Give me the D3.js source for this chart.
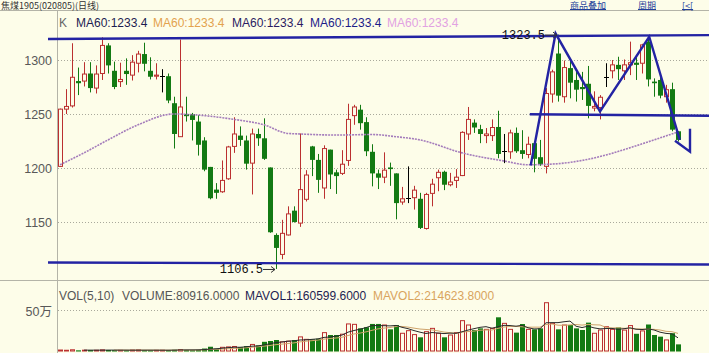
<!DOCTYPE html>
<html>
<head>
<meta charset="utf-8">
<script src="https://cdn.jsdelivr.net/npm/d3@7"></script>
<style>
html, body { margin: 0; padding: 0; background: #fdfde9; }
svg { display: block; }
</style>
</head>
<body>
<svg id="chart" width="709" height="353"></svg>
<script>
// daily bars, index 1..104
const opens = [1201.5, 1254.5, 1257.5, 1280.5, 1280.5, 1287.5, 1274, 1287.5, 1313.5, 1290,
  1280, 1290, 1286, 1297, 1305.5, 1290, 1285, 1285, 1285, 1260,
  1229, 1250, 1250, 1243, 1225.5, 1201, 1180, 1178, 1190, 1220,
  1230, 1225.5, 1204.5, 1231.5, 1227.5, 1200.5, 1138, 1120, 1138, 1160.5,
  1149, 1171, 1220, 1207.5, 1181.5, 1217, 1196, 1195, 1207, 1248.5,
  1254, 1242.5, 1215, 1195, 1191.5, 1200.5, 1195, 1168.5, 1172, 1172.5,
  1171.5, 1144, 1176.5, 1191, 1196.5, 1184.5, 1188.5, 1193, 1231.5, 1242,
  1236, 1230, 1230, 1238, 1216, 1215, 1232.5, 1216.5, 1212.5, 1223,
  1210, 1201.5, 1268.5, 1306, 1266, 1292.5, 1281.5, 1275, 1278, 1255.5,
  1256, 1284.5, 1290, 1295.5, 1290, 1295.5, 1297.5, 1297, 1317, 1280,
  1281.5, 1266, 1273, 1234]
const highs = [1255, 1273, 1315.5, 1293, 1298, 1298, 1295, 1321, 1315.5, 1298.5,
  1297.5, 1301.5, 1304.5, 1308.5, 1316, 1302.5, 1297, 1291.5, 1287.5, 1266,
  1319, 1266, 1251, 1249, 1228.5, 1201, 1186, 1207, 1220.5, 1247,
  1238.5, 1230, 1236.5, 1236.5, 1246, 1200.5, 1139.5, 1152, 1164.5, 1164.5,
  1232, 1198, 1220.5, 1213, 1221, 1217, 1198.5, 1216.5, 1259.5, 1258.5,
  1258.5, 1247, 1222, 1198.5, 1214.5, 1205, 1195, 1182.5, 1201.5, 1183.5,
  1177, 1177, 1190, 1198.5, 1197.5, 1195.5, 1199, 1234, 1256.5, 1245,
  1240, 1237, 1245, 1253, 1231.5, 1235.5, 1237.5, 1235, 1229, 1223.5,
  1226, 1274, 1291, 1323.5, 1299.5, 1301.5, 1291, 1289, 1294.5, 1271,
  1267.5, 1297, 1300, 1303, 1300.5, 1317, 1304.5, 1315, 1321, 1283,
  1284.5, 1277, 1279, 1234]
const lows = [1201, 1250, 1256, 1267.5, 1275.5, 1270, 1269, 1281.5, 1287.5, 1273,
  1275, 1277, 1281, 1288.5, 1289.5, 1282, 1282, 1270, 1260, 1218,
  1229, 1243, 1225.5, 1211.5, 1197, 1171, 1171.5, 1177, 1189, 1214,
  1220.5, 1198.5, 1175.5, 1220.5, 1207.5, 1140, 1106.5, 1115.5, 1137.5, 1149.5,
  1145.5, 1169, 1192.5, 1177, 1171.5, 1180.5, 1176, 1193.5, 1202, 1240,
  1235.5, 1211, 1183, 1180.5, 1186, 1183.5, 1152.5, 1166, 1167.5, 1161.5,
  1143.5, 1143, 1164.5, 1178.5, 1179.5, 1183, 1181.5, 1192.5, 1226, 1232.5,
  1223, 1223, 1225, 1209, 1204.5, 1208.5, 1214, 1208.5, 1209, 1196,
  1202, 1195, 1260.5, 1261.5, 1260.5, 1264.5, 1261.5, 1263, 1246, 1252.5,
  1245, 1275, 1283, 1281.5, 1281.5, 1286, 1281.5, 1287.5, 1275.5, 1266,
  1264.5, 1260.5, 1234, 1224.5]
const closes = [1254.5, 1257, 1284, 1278.5, 1287, 1274, 1287, 1313.5, 1295, 1275,
  1282, 1287, 1298, 1305.5, 1296.5, 1284.5, 1286, 1285, 1262.5, 1231.5,
  1256.5, 1248, 1244.5, 1221.5, 1198.5, 1172, 1177, 1188.5, 1219.5, 1231.5,
  1226, 1204, 1231.5, 1227.5, 1208.5, 1140.5, 1126, 1139.5, 1157.5, 1150,
  1180, 1193.5, 1207.5, 1189, 1218, 1194, 1192.5, 1203.5, 1245, 1256.5,
  1241.5, 1215.5, 1195, 1191, 1198, 1199, 1167.5, 1171.5, 1172, 1179.5,
  1144.5, 1175.5, 1185, 1196, 1184.5, 1187, 1191.5, 1233, 1245, 1237.5,
  1231.5, 1231.5, 1237.5, 1213, 1216, 1232.5, 1215.5, 1213, 1222, 1208.5,
  1203.5, 1269, 1289, 1267, 1293, 1279, 1272.5, 1273, 1257.5, 1257,
  1265.5, 1284.5, 1295.5, 1291.5, 1295.5, 1297.5, 1295.5, 1314, 1282, 1278.5,
  1267, 1272.5, 1235.5, 1226]
const volumes = [12000, 9000, 15000, 8000, 10000, 11000, 9000, 14000, 12000, 10000,
  8000, 9000, 11000, 13000, 10000, 9000, 8000, 9000, 12000, 15000,
  18000, 12000, 10000, 14000, 30000, 52000, 28000, 45000, 50000, 55000,
  48000, 60000, 80000, 68000, 112000, 122000, 134000, 112000, 120000, 134000,
  172000, 142000, 142000, 150000, 224000, 195000, 195000, 205000, 330000, 325000,
  276000, 290000, 330000, 330000, 317000, 264000, 317000, 216000, 248000, 200000,
  167000, 236000, 276000, 216000, 167000, 195000, 224000, 370000, 317000, 256000,
  276000, 264000, 276000, 411000, 337000, 264000, 224000, 329000, 264000, 264000,
  276000, 589000, 337000, 264000, 317000, 317000, 276000, 256000, 346000, 216000,
  256000, 296000, 264000, 288000, 255000, 310000, 210000, 245000, 323240, 195000,
  175000, 135000, 217082, 80916]

// MA60 at some bars
const ma60Idx = [1, 5, 9, 14, 20, 24, 30, 35, 39, 41, 47, 53, 57, 61, 68, 75, 79, 84, 88, 92, 95, 100, 104]
const ma60Val = [1203, 1214, 1226, 1240, 1250, 1249, 1245, 1240, 1232, 1231.5, 1230.5, 1231, 1229, 1226, 1214, 1206.5, 1203, 1204, 1207, 1212, 1217, 1226, 1233.4]

const priceTicks = [1150, 1200, 1250, 1300]
const volTicks = [500000]

// hand drawn lines on the chart, [bar index, price]
const topLine = [[-1, 1319.5], [109.5, 1323]]
const bottomLine = [[-1, 1112.5], [109.5, 1110.7]]
const neckLine = [[79.3, 1249.7], [109.5, 1248.3]]
const zigzag = [[79.45, 1202.4], [83.6, 1324.5], [91, 1252.4], [99.2, 1321.5], [104.3, 1226]]
const arrowHead = [[103.5, 1225.2], [106, 1215.1], [106, 1236.3]]

const maLabels = ['MA60:1233.4', 'MA60:1233.4', 'MA60:1233.4', 'MA60:1233.4', 'MA60:1233.4']
const maColors = ['#1d1d52', '#e3a24e', '#2b1c62', '#1c1c88', '#e2a2e2']

const W = 709, H = 353
const bg = '#fdfde9'
const red = '#bb3030'
const green = '#137a13'
const navy = '#2323a3'

const svg = d3.select('#chart')
svg.append('rect').attr('width', W).attr('height', H).attr('fill', bg)

const x = d3.scaleLinear().domain([1, 104]).range([60, 678])
const y = d3.scaleLinear().domain([1150, 1300]).range([222, 60])
const yv = d3.scaleLinear().domain([0, 500000]).range([351, 310])

const candles = opens.map((o, i) => ({ i: i + 1, o: o, h: highs[i], l: lows[i], c: closes[i], v: volumes[i] }))
const colorOf = d => d.c > d.o ? red : (d.c < d.o ? green : '#000')

// frame
svg.append('line').attr('x1', 0).attr('x2', W).attr('y1', 10.5).attr('y2', 10.5).attr('stroke', '#b4b4a8')
svg.append('line').attr('x1', 0).attr('x2', W).attr('y1', 280.5).attr('y2', 280.5).attr('stroke', '#b4b4a8')
svg.append('line').attr('x1', 57.5).attr('x2', 57.5).attr('y1', 10).attr('y2', H).attr('stroke', '#b4b4a8')

// header (small so it fits above the top rule)
svg.append('text').attr('x', 1).attr('y', 8.5)
  .style('font', '9px "Noto Sans CJK SC"').attr('fill', '#333')
  .text('焦煤1905(020805)(日线)')
const links = [['商品叠加', 570], ['周期', 638], ['[<[', 682]]
links.forEach(l => {
  const t = svg.append('text').attr('x', l[1]).attr('y', 8.5)
    .style('font', '9px "Noto Sans CJK SC"').attr('fill', '#22409a')
    .text(l[0])
  const w = t.node().getComputedTextLength()
  svg.append('line').attr('x1', l[1]).attr('x2', l[1] + w).attr('y1', 9.5).attr('y2', 9.5).attr('stroke', '#22409a')
})

svg.append('text').attr('x', 59).attr('y', 26.5)
  .style('font', '12px "Liberation Sans", Arial').attr('fill', '#666').text('K')
const maX = [76, 153, 232, 310, 387]
maLabels.forEach((t, i) => {
  svg.append('text').attr('x', maX[i]).attr('y', 26.5)
    .style('font', '12px "Liberation Sans", Arial').attr('fill', maColors[i]).text(t)
})

// price axis + grid
const tickFont = '12.5px "Liberation Sans", Arial'
priceTicks.forEach(t => {
  svg.append('line').attr('x1', 58).attr('x2', W)
    .attr('y1', Math.round(y(t)) + 0.5).attr('y2', Math.round(y(t)) + 0.5)
    .attr('stroke', '#a9a99c').attr('stroke-dasharray', '1,2')
  svg.append('text').attr('x', 52).attr('y', y(t) + 4.5)
    .attr('text-anchor', 'end').style('font', tickFont).attr('fill', '#585858').text(t)
})

const clip = svg.append('clipPath').attr('id', 'pclip')
clip.append('rect').attr('x', 0).attr('y', 11).attr('width', W).attr('height', 269)
const plot = svg.append('g').attr('clip-path', 'url(#pclip)')

// candles
const bars = plot.selectAll('g.bar').data(candles).enter().append('g').attr('class', 'bar')
bars.append('line')
  .attr('x1', d => x(d.i) + 0.5).attr('x2', d => x(d.i) + 0.5)
  .attr('y1', d => y(d.h)).attr('y2', d => y(d.l))
  .attr('stroke', colorOf)
bars.filter(d => d.c > d.o).append('rect')
  .attr('x', d => x(d.i) - 1.5).attr('width', 4)
  .attr('y', d => y(d.c)).attr('height', d => Math.max(1, y(d.o) - y(d.c)))
  .attr('fill', bg).attr('stroke', red)
bars.filter(d => d.c < d.o).append('rect')
  .attr('x', d => x(d.i) - 2).attr('width', 5)
  .attr('y', d => y(d.o)).attr('height', d => Math.max(1, y(d.c) - y(d.o)))
  .attr('fill', green)
bars.filter(d => d.c === d.o).append('line')
  .attr('x1', d => x(d.i) - 2).attr('x2', d => x(d.i) + 3)
  .attr('y1', d => Math.round(y(d.o)) + 0.5).attr('y2', d => Math.round(y(d.o)) + 0.5)
  .attr('stroke', '#000')

// MA60
const maLine = d3.line().x(d => x(d[0])).y(d => y(d[1])).curve(d3.curveMonotoneX)
plot.append('path').datum(ma60Idx.map((v, i) => [v, ma60Val[i]]))
  .attr('d', maLine).attr('fill', 'none')
  .attr('stroke', '#a47cbb').attr('stroke-width', 1.6).attr('stroke-dasharray', '2,1')

// drawn lines
const pline = d3.line().x(d => x(d[0])).y(d => y(d[1]))
;[topLine, bottomLine, neckLine, zigzag, arrowHead].forEach(pts => {
  plot.append('path').datum(pts).attr('d', pline).attr('fill', 'none')
    .attr('stroke', navy).attr('stroke-width', 2.4).attr('stroke-linejoin', 'miter')
})

// max / min markers
const hiBar = candles[d3.maxIndex(candles, d => d.h)]
const loBar = candles[d3.minIndex(candles, d => d.l)]
const fmt = d3.format('.1f')
;[[hiBar, hiBar.h], [loBar, loBar.l]].forEach(m => {
  const px = x(m[0].i), py = y(m[1])
  plot.append('text').attr('x', px - 13).attr('y', py + 4.5).attr('text-anchor', 'end')
    .style('font', '12px "Liberation Mono", "DejaVu Sans Mono", monospace').attr('fill', '#111')
    .text(fmt(m[1]))
  plot.append('line').attr('x1', px - 13).attr('x2', px - 1).attr('y1', py + 0.5).attr('y2', py + 0.5)
    .attr('stroke', '#333')
  plot.append('path').attr('d', `M${px - 5},${py - 2.5}L${px - 1},${py + 0.5}L${px - 5},${py + 3.5}`)
    .attr('fill', 'none').attr('stroke', '#333')
})

// volume panel
volTicks.forEach(t => {
  svg.append('line').attr('x1', 58).attr('x2', W)
    .attr('y1', Math.round(yv(t)) + 0.5).attr('y2', Math.round(yv(t)) + 0.5)
    .attr('stroke', '#a9a99c').attr('stroke-dasharray', '1,2')
  svg.append('text').attr('x', 52).attr('y', yv(t) + 5.5).attr('text-anchor', 'end')
    .style('font', '12.5px "Liberation Sans", "Noto Sans CJK SC"').attr('fill', '#585858')
    .text((t / 10000) + '万')
})

const vbars = svg.selectAll('g.vbar').data(candles).enter().append('g').attr('class', 'vbar')
vbars.filter(d => d.c >= d.o).append('rect')
  .attr('x', d => x(d.i) - 1.5).attr('width', 4)
  .attr('y', d => yv(d.v)).attr('height', d => Math.max(0.5, yv(0) - yv(d.v)))
  .attr('fill', 'none').attr('stroke', red)
vbars.filter(d => d.c < d.o).append('rect')
  .attr('x', d => x(d.i) - 2).attr('width', 5)
  .attr('y', d => yv(d.v)).attr('height', d => Math.max(1, yv(0) - yv(d.v) + 0.5))
  .attr('fill', green)

const movAvg = n => volumes.map((v, i) => i < n - 1 ? null : [i + 1, d3.mean(volumes.slice(i - n + 1, i + 1))]).filter(d => d)
const vline = d3.line().x(d => x(d[0])).y(d => yv(d[1]))
svg.append('path').datum(movAvg(10)).attr('d', vline).attr('fill', 'none').attr('stroke', '#cfa46c').attr('stroke-width', 1)
svg.append('path').datum(movAvg(5)).attr('d', vline).attr('fill', 'none').attr('stroke', '#2a2a2a').attr('stroke-width', 1)

const volText = [['VOL(5,10)', 59, '#555'], ['VOLUME:80916.0000', 122, '#555'],
  ['MAVOL1:160599.6000', 245, '#1d1d52'], ['MAVOL2:214623.8000', 373, '#d9a45e']]
volText.forEach(t => {
  svg.append('text').attr('x', t[1]).attr('y', 300)
    .style('font', '12px "Liberation Sans", Arial').attr('fill', t[2]).text(t[0])
})
</script>
</body>
</html>
